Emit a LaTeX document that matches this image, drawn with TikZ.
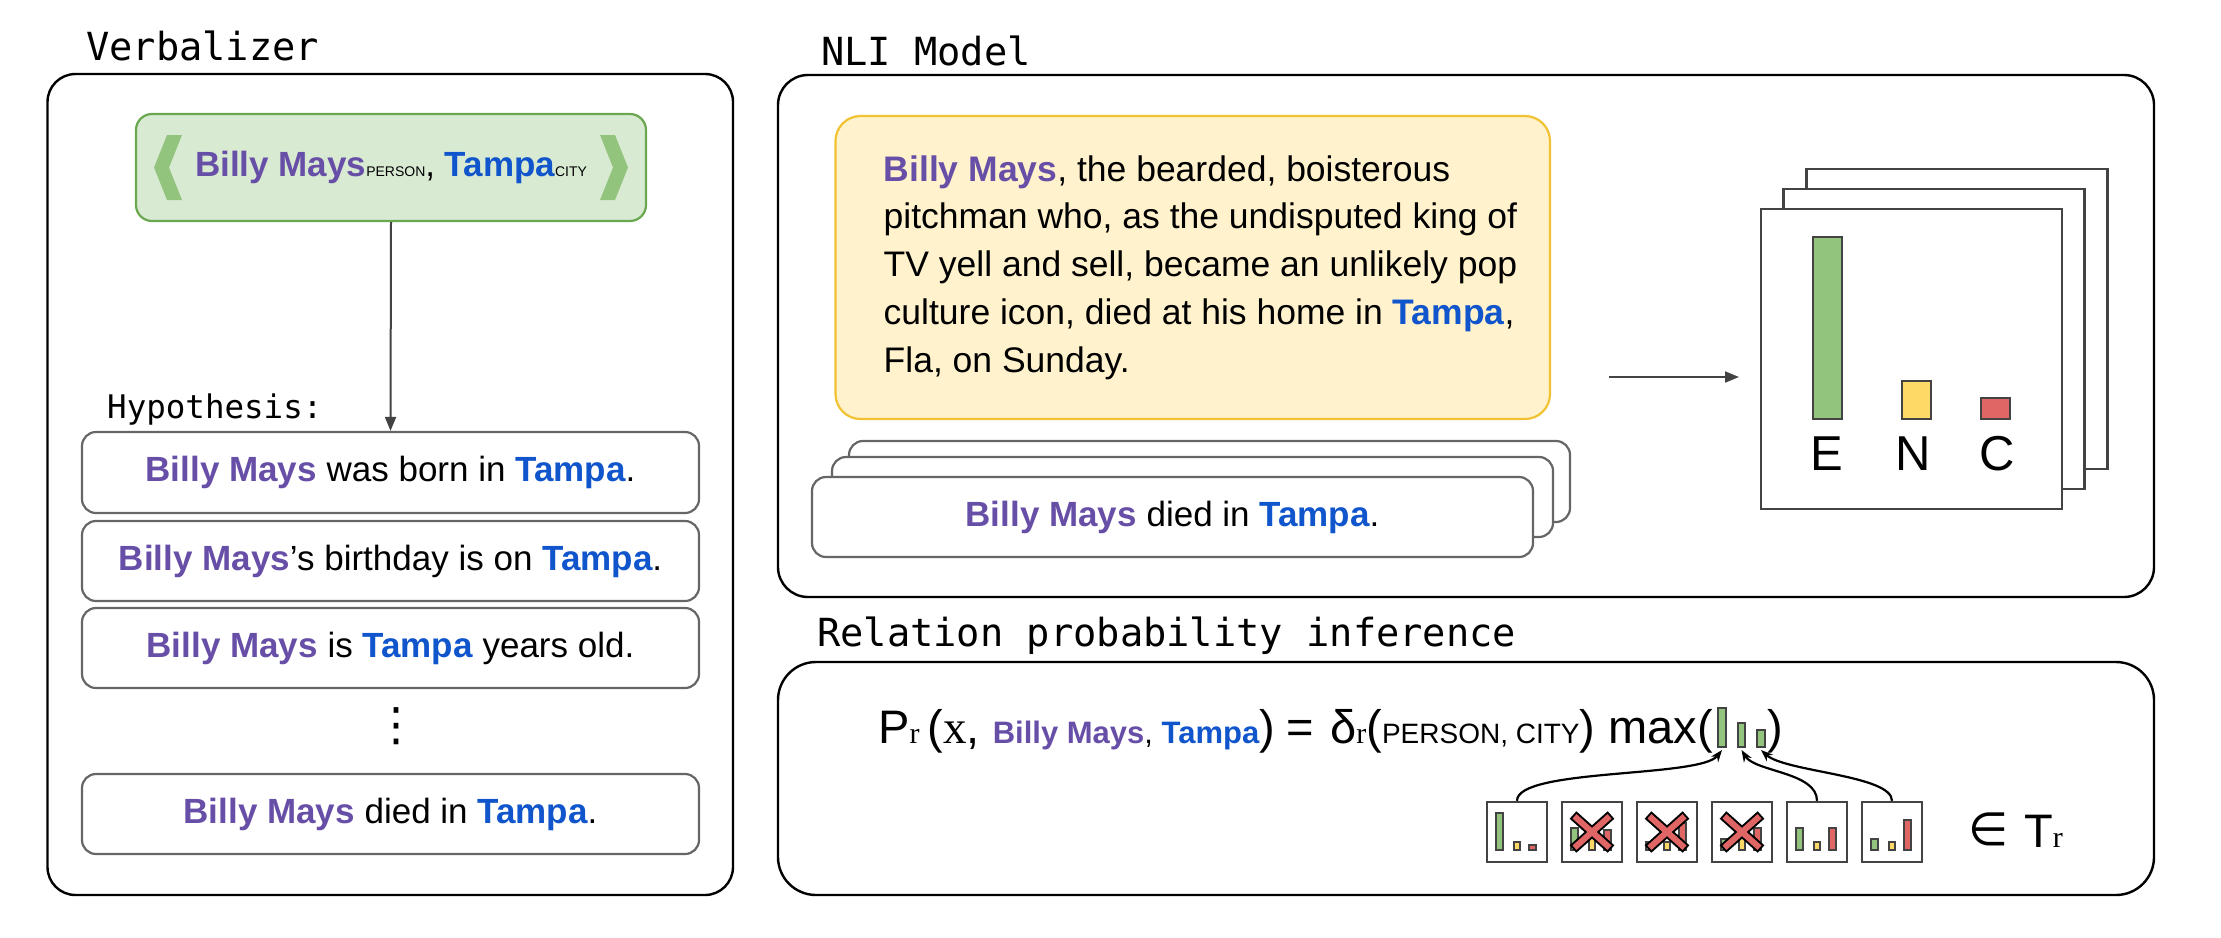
\documentclass[tikz,border=0pt]{standalone}
\usepackage{fontspec}
\setmainfont{Liberation Sans}
\newfontfamily\serifr{Liberation Serif}
\newfontfamily\monof{DejaVu Sans Mono}
\newfontfamily\djv{DejaVu Sans}
\usetikzlibrary{arrows.meta}
\definecolor{bmpurple}{HTML}{674EA7}
\definecolor{tpblue}{HTML}{1155CC}
\definecolor{boxgray}{HTML}{666666}
\definecolor{darkg}{HTML}{434343}
\definecolor{lgreen}{HTML}{D9EAD3}
\definecolor{mgreen}{HTML}{6AA84F}
\definecolor{chev}{HTML}{93C47D}
\definecolor{barg}{HTML}{93C47D}
\definecolor{bary}{HTML}{FFD966}
\definecolor{barr}{HTML}{E06666}
\definecolor{lyellow}{HTML}{FFF2CC}
\definecolor{myellow}{HTML}{F1C232}
\newcommand\BMay{{\bfseries\color{bmpurple}Billy Mays}}
\newcommand\TPa{{\bfseries\color{tpblue}Tampa}}
\begin{document}
\begin{tikzpicture}[x=1pt,y=-1pt,
  outer/.style={draw=black, line width=2.4pt, inner sep=0},
  ttl/.style={font=\monof\fontsize{38.7}{40}\selectfont, anchor=base west, inner sep=0},
  subttl/.style={font=\monof\fontsize{32.5}{34}\selectfont, anchor=base west, inner sep=0},
  hyp/.style={draw=boxgray, line width=2.2pt, rounded corners=14pt, fill=white, minimum width=617pt, minimum height=80pt, inner sep=0, font=\fontsize{35}{40}\selectfont},
  stk/.style={draw=boxgray, line width=2.2pt, rounded corners=14pt, fill=white, minimum width=721pt, minimum height=80pt, inner sep=0, font=\fontsize{35}{40}\selectfont},
  txt/.style={anchor=base west, inner sep=0, font=\fontsize{35.5}{40}\selectfont},
  card/.style={draw=darkg, line width=2.2pt, fill=white, minimum width=301pt, minimum height=300pt, inner sep=0},
  bar/.style={draw=darkg, line width=1.6pt},
  minibox/.style={draw=darkg, line width=2.4pt, fill=white, minimum width=60pt, minimum height=60pt, inner sep=0},
  minibar/.style={draw=darkg, line width=1.3pt},
  arr/.style={draw=darkg, line width=2pt, -{Triangle[length=14pt,width=11pt]}},
  curv/.style={draw=black, line width=2.2pt, -{Stealth[length=12pt,width=9pt]}},
  fml/.style={anchor=base west, inner sep=0, font=\fontsize{47}{50}\selectfont}
]
\useasboundingbox (0,0) rectangle (2221,937);

% ---------------- Verbalizer ----------------
\node[ttl] (tv) at (86,60) {Verbalizer};
\node[outer, rounded corners=28pt, minimum width=685.5pt, minimum height=821pt] (verb) at (390.25,484.5) {};
\node[draw=mgreen, fill=lgreen, line width=2.2pt, rounded corners=16pt, minimum width=510pt, minimum height=107pt, inner sep=0, font=\fontsize{35}{40}\selectfont] (gbox) at (391,167.5)
  {\BMay{\fontsize{14}{16}\selectfont PERSON}, \TPa{\fontsize{14}{16}\selectfont CITY}};
\fill[chev] (167,135) -- (182,135) -- (169,167.5) -- (182,200) -- (167,200) -- (154,167.5) -- cycle;
\fill[chev] (615,135) -- (600,135) -- (613,167.5) -- (600,200) -- (615,200) -- (628,167.5) -- cycle;
\node[subttl] (thyp) at (107,418) {Hypothesis:};
\node[hyp, minimum height=81pt] (h1) at (390.5,472.5) {\BMay{} was born in \TPa.};
\node[hyp] (h2) at (390.5,561) {\BMay’s birthday is on \TPa.};
\node[hyp] (h3) at (390.5,648) {\BMay{} is \TPa{} years old.};
\node[inner sep=0, font=\djv\fontsize{46}{48}\selectfont] (dots) at (396,726) {⋮};
\node[hyp] (h4) at (390.5,814) {\BMay{} died in \TPa.};
\draw[arr] (gbox.south) -- (h1.north);

% ---------------- NLI Model ----------------
\node[ttl] (tn) at (821,65) {NLI Model};
\node[outer, rounded corners=30pt, minimum width=1376pt, minimum height=522pt] (nli) at (1466,336) {};
\node[draw=myellow, fill=lyellow, line width=2.2pt, rounded corners=25pt, minimum width=714.5pt, minimum height=303pt, inner sep=0] (prem) at (1192.75,267.5) {};
\node[txt] (p1) at (883.5,181) {\BMay, the bearded, boisterous};
\node[txt] (p2) at (883.5,228.8) {pitchman who, as the undisputed king of};
\node[txt] (p3) at (883.5,276.6) {TV yell and sell, became an unlikely pop};
\node[txt] (p4) at (883.5,324.4) {culture icon, died at his home in \TPa,};
\node[txt] (p5) at (883.5,372.2) {Fla, on Sunday.};
\node[stk, minimum height=81pt] (s3) at (1209.5,481.5) {};
\node[stk] (s2) at (1192.5,497) {};
\node[stk] (s1) at (1172.5,517) {\BMay{} died in \TPa.};
\coordinate (a1) at (1609,377);
\coordinate (a2) at (1739,377);
\draw[arr] (a1) -- (a2);
\node[card] (c3) at (1957,319) {};
\node[card] (c2) at (1934,339) {};
\node[card] (c1) at (1911.5,359) {};
\draw[bar, fill=barg] (1813,237) rectangle (1842,419);
\draw[bar, fill=bary] (1902,381) rectangle (1931,419);
\draw[bar, fill=barr] (1981,398) rectangle (2010,419);
\node[anchor=base, inner sep=0, font=\fontsize{49}{52}\selectfont] (le) at (1827,470) {E};
\node[anchor=base, inner sep=0, font=\fontsize{49}{52}\selectfont] (ln) at (1913,470) {N};
\node[anchor=base, inner sep=0, font=\fontsize{49}{52}\selectfont] (lc) at (1997,470) {C};

% ---------------- Relation probability inference ----------------
\node[ttl] (tr) at (817,646) {Relation probability inference};
\node[outer, rounded corners=38pt, minimum width=1376pt, minimum height=233pt] (rel) at (1466,778.5) {};
\node[fml] (f1) at (878,743) {P{\serifr\fontsize{30}{32}\selectfont r}\hspace{8pt}({\serifr x}, {\fontsize{31}{33}\selectfont\BMay, \TPa})};
\node[fml] (feq) at (1286,743) {=};
\node[fml] (f2) at (1330,743) {δ{\serifr\fontsize{30}{32}\selectfont r}({\fontsize{28}{30}\selectfont PERSON, CITY}) max(};
\node[fml] (f3) at (1767,743) {)};
\draw[bar, fill=barg] (1718,708) rectangle (1726,747);
\draw[bar, fill=barg] (1738,723) rectangle (1745,747);
\draw[bar, fill=barg] (1757,730) rectangle (1765,747);
\coordinate (fb1) at (1722,750);
\coordinate (fb2) at (1741.5,750);
\coordinate (fb3) at (1761,750);

\foreach \i/\g/\yy/\r/\cr in {0/11/40/43/0, 1/26/36/28/1, 2/40/40/21/1, 3/37/28/26/1, 4/26/40/26/0, 5/37/40/18/0}{
  \node[minibox] (m\i) at (1517+75*\i,832) {};
  \draw[minibar, fill=barg] (1487+75*\i+9,802+\g) rectangle (1487+75*\i+16,850);
  \draw[minibar, fill=bary] (1487+75*\i+27,802+\yy) rectangle (1487+75*\i+33,850);
  \draw[minibar, fill=barr] (1487+75*\i+42,802+\r) rectangle (1487+75*\i+49,850);
  \ifnum\cr=1
    \draw[black, line width=10pt] (1487+75*\i+11,815) -- (1487+75*\i+49,849);
    \draw[black, line width=10pt] (1487+75*\i+49,815) -- (1487+75*\i+11,849);
    \draw[barr, line width=6pt, shorten <=2pt, shorten >=2pt] (1487+75*\i+11,815) -- (1487+75*\i+49,849);
    \draw[barr, line width=6pt, shorten <=2pt, shorten >=2pt] (1487+75*\i+49,815) -- (1487+75*\i+11,849);
  \fi
}
\draw[curv] (m0.north) .. controls (1517,768) and (1700,778) .. (fb1);
\draw[curv] (m4.north) .. controls (1817,772) and (1755,772) .. (fb2);
\draw[curv] (m5.north) .. controls (1892,775) and (1785,772) .. (fb3);
\node[anchor=base west, inner sep=0, font=\djv\fontsize{46}{48}\selectfont] (elem) at (1968,845) {∈};
\node[fml] (tset) at (2024,847) {T{\serifr\fontsize{30}{32}\selectfont r}};
\end{tikzpicture}
\end{document}
